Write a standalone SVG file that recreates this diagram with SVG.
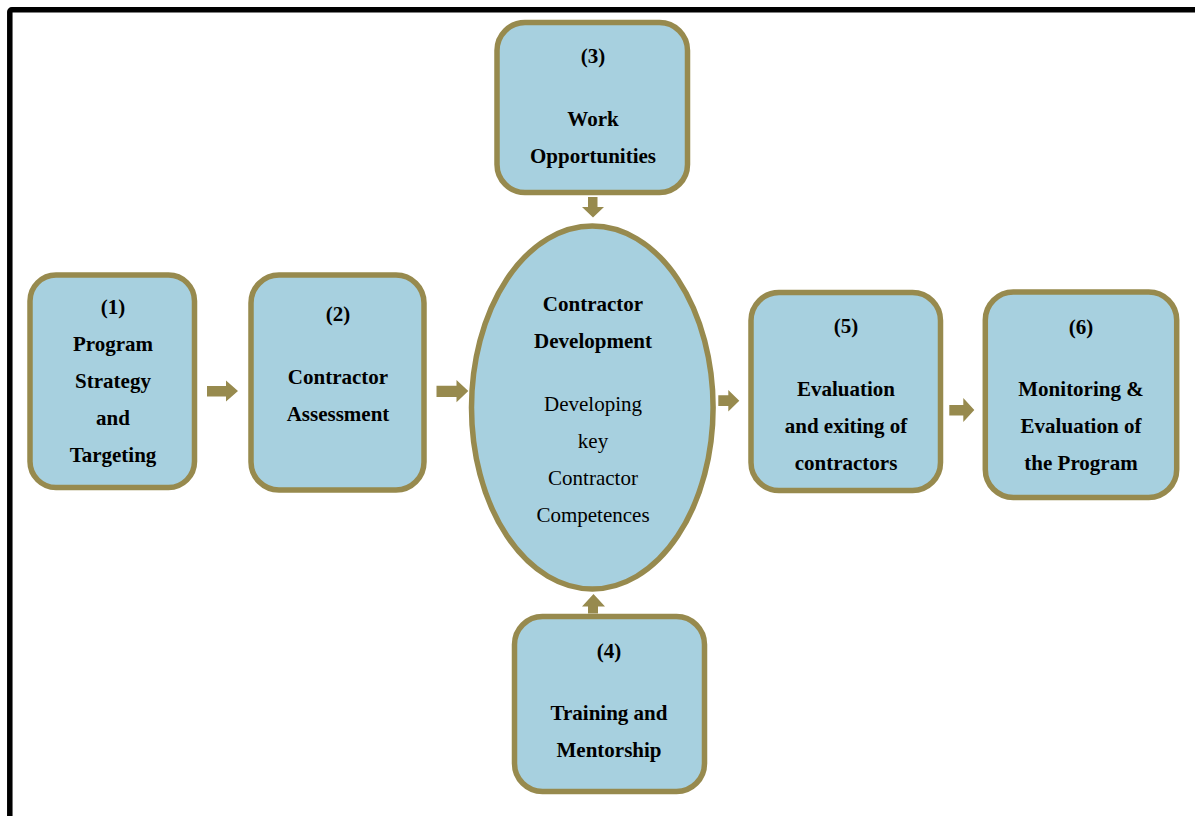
<svg xmlns="http://www.w3.org/2000/svg" width="1195" height="816" viewBox="0 0 1195 816">
<style>
.box{fill:#A7D0DF;stroke:#978A4E;stroke-width:5.5}
.arr{fill:#978A4E}
text{font-family:"Liberation Serif","Times New Roman",serif;font-size:21px;fill:#000;text-anchor:middle}
.b{font-weight:bold}
</style>
<rect x="0" y="0" width="1195" height="816" fill="#fff"/>
<rect x="9.8" y="9.8" width="1200" height="830" rx="2" fill="none" stroke="#000" stroke-width="5.5"/>
<g id="connectors">
<polygon class="arr" points="207,386 226,386 226,380.5 238,391 226,401.5 226,396.5 207,396.5"/>
<polygon class="arr" points="436.5,385.8 456.5,385.8 456.5,380 468.3,391 456.5,402.3 456.5,397 436.5,397"/>
<polygon class="arr" points="588,197 597.5,197 597.5,207 604,207 593,217.5 582,207 588,207"/>
<polygon class="arr" points="588,613.5 598,613.5 598,606.5 605,606.5 593.5,594 582,606.5 588,606.5"/>
<polygon class="arr" points="718.3,395.2 728.3,395.2 728.3,390 739.3,400.8 728.3,411.6 728.3,406 718.3,406"/>
<polygon class="arr" points="949.3,405 963.3,405 963.3,398 974.3,410 963.3,422 963.3,415.5 949.3,415.5"/>
</g>
<g id="node1">
<rect class="box" x="30" y="275" width="164.5" height="212.5" rx="26"/>
<text class="b" x="113" y="314">(1)</text>
<text class="b" x="113" y="351">Program</text>
<text class="b" x="113" y="388">Strategy</text>
<text class="b" x="113" y="425">and</text>
<text class="b" x="113" y="462">Targeting</text>
</g>
<g id="node2">
<rect class="box" x="251" y="275" width="173" height="215" rx="28"/>
<text class="b" x="338" y="321">(2)</text>
<text class="b" x="338" y="384">Contractor</text>
<text class="b" x="338" y="421">Assessment</text>
</g>
<g id="node3">
<rect class="box" x="497" y="22.5" width="190.5" height="170" rx="28"/>
<text class="b" x="593" y="63">(3)</text>
<text class="b" x="593" y="126">Work</text>
<text class="b" x="593" y="163">Opportunities</text>
</g>
<g id="nodeCenter">
<ellipse class="box" cx="592.3" cy="407.5" rx="120.8" ry="181.5"/>
<text class="b" x="593" y="311">Contractor</text>
<text class="b" x="593" y="348">Development</text>
<text x="593" y="411">Developing</text>
<text x="593" y="448">key</text>
<text x="593" y="485">Contractor</text>
<text x="593" y="522">Competences</text>
</g>
<g id="node4">
<rect class="box" x="514.5" y="616.5" width="190" height="175" rx="28"/>
<text class="b" x="609" y="658">(4)</text>
<text class="b" x="609" y="720">Training and</text>
<text class="b" x="609" y="757">Mentorship</text>
</g>
<g id="node5">
<rect class="box" x="751" y="292.5" width="189.5" height="198" rx="28"/>
<text class="b" x="846" y="333">(5)</text>
<text class="b" x="846" y="396">Evaluation</text>
<text class="b" x="846" y="433">and exiting of</text>
<text class="b" x="846" y="470">contractors</text>
</g>
<g id="node6">
<rect class="box" x="985.3" y="292" width="191.4" height="205.5" rx="28"/>
<text class="b" x="1081" y="334">(6)</text>
<text class="b" x="1081" y="396">Monitoring &amp;</text>
<text class="b" x="1081" y="433">Evaluation of</text>
<text class="b" x="1081" y="470">the Program</text>
</g>
</svg>
